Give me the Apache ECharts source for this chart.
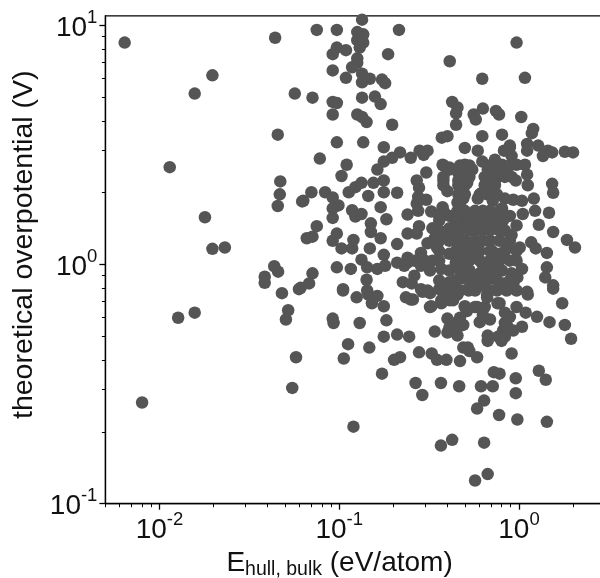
<!DOCTYPE html>
<html><head><meta charset="utf-8">
<style>html,body{margin:0;padding:0;background:#fff}#c{width:600px;height:578px}</style>
<script src="https://cdn.jsdelivr.net/npm/echarts@6/dist/echarts.min.js"></script>
</head><body><div id="c"></div>
<script>
const xMajorTicks=[0.01,0.1,1];
const yMajorTicks=[0.1,1,10];
const xMinorTicks=[0.005,0.006,0.007,0.008,0.009,0.02,0.03,0.04,0.05,0.06,0.07,0.08,0.09,0.2,0.3,0.4,0.5,0.6,0.7,0.8,0.9,2,3];
const yMinorTicks=[0.2,0.3,0.4,0.5,0.6,0.7,0.8,0.9,2,3,4,5,6,7,8,9];
const sparseLeft=[[0.0064,8.5],[0.044,8.9],[0.0197,6.2],[0.0157,5.2],[0.0566,5.2],[0.0455,3.5],[0.0114,2.56],[0.047,2.23],[0.0467,1.97],[0.0455,1.76],[0.0622,1.84],[0.0179,1.58],[0.0197,1.165],[0.0231,1.18],[0.0435,0.985],[0.0457,0.935],[0.0385,0.89],[0.0385,0.84],[0.048,0.76],[0.0597,0.79],[0.052,0.645],[0.0505,0.59],[0.0127,0.6],[0.0157,0.63],[0.0575,0.41],[0.0548,0.305],[0.008,0.265]];
const lowerBand=[[0.105,0.78],[0.125,0.73],[0.145,0.75],[0.163,0.74],[0.152,0.69],[0.177,0.67],[0.235,0.73],[0.257,0.715],[0.291,0.77],[0.32,0.76],[0.32,0.665],[0.37,0.69],[0.412,0.71],[0.4,0.77],[0.44,0.78],[0.525,0.78],[0.5,0.665],[0.514,0.64],[0.57,0.665],[0.645,0.665],[0.665,0.75],[0.78,0.69],[0.97,0.665],[1.12,0.75],[1.55,0.794],[1.74,0.69],[1.09,0.63],[1.26,0.605],[1.48,0.575],[1.8,0.56],[1.95,0.49],[0.092,0.595],[0.093,0.57],[0.13,0.57],[0.183,0.585],[0.4,0.595],[0.445,0.57],[0.49,0.56],[0.455,0.545],[0.4,0.52],[0.455,0.505],[0.34,0.525],[0.245,0.5],[0.21,0.51],[0.177,0.5],[0.112,0.465],[0.147,0.45],[0.106,0.405],[0.218,0.41],[0.202,0.4],[0.278,0.43],[0.327,0.425],[0.35,0.4],[0.395,0.4],[0.47,0.395],[0.585,0.41],[0.53,0.435],[0.49,0.45],[0.52,0.45],[0.605,0.575],[0.69,0.59],[0.63,0.615],[0.67,0.505],[0.67,0.48],[0.8,0.48],[0.815,0.53],[0.835,0.57],[0.89,0.605],[0.93,0.53],[1.04,0.55],[0.91,0.425],[0.173,0.35],[0.266,0.32],[0.29,0.285],[0.368,0.32],[0.465,0.31],[0.615,0.31],[0.715,0.31],[0.725,0.355],[0.78,0.35],[0.96,0.335],[0.96,0.29],[1.29,0.36],[1.41,0.33],[0.64,0.27],[0.585,0.25],[0.775,0.235],[0.98,0.225],[1.43,0.22],[0.12,0.21],[0.425,0.185],[0.368,0.175],[0.64,0.18],[0.67,0.133],[0.57,0.125]];
const upperBand=[[0.108,11.6],[0.134,10.6],[0.17,11.8],[0.075,9.6],[0.097,9.6],[0.215,9.6],[0.126,9.4],[0.136,9.2],[0.126,8.7],[0.136,8.5],[0.13,8.1],[0.097,8.1],[0.109,7.9],[0.092,7.6],[0.187,7.6],[0.126,7.3],[0.126,7.0],[0.118,6.7],[0.092,6.5],[0.134,6.3],[0.109,6.05],[0.148,6.0],[0.134,5.8],[0.173,5.95],[0.18,5.75],[0.412,7.1],[0.97,8.5],[0.625,6.0],[1.08,6.05],[0.071,5.0],[0.092,4.8],[0.097,4.75],[0.092,4.25],[0.134,5.0],[0.158,5.05],[0.17,4.7],[0.126,4.25],[0.134,4.15],[0.142,3.95],[0.197,3.85],[0.425,4.8],[0.455,4.55],[0.447,4.3],[0.447,3.85],[0.63,4.5],[0.56,4.25],[0.575,4.05],[0.745,4.4],[0.775,4.25],[1.03,4.15],[1.2,3.7],[1.18,3.55],[0.372,3.4],[0.4,3.45],[0.625,3.45],[0.805,3.5],[0.097,3.25],[0.136,3.25],[0.078,2.78],[0.177,3.1],[0.218,2.95],[0.25,2.8],[0.197,2.8],[0.177,2.7],[0.28,3.0],[0.31,3.0],[0.295,2.88],[0.5,3.08],[0.59,3.0],[0.625,2.7],[0.89,3.1],[0.825,3.0],[1.11,3.2],[1.11,3.0],[1.28,3.15],[1.45,3.0],[1.36,2.85],[1.53,2.95],[1.8,2.97],[2.0,2.95],[1.08,2.62],[1.53,2.18],[1.55,2.0],[1.47,1.65],[1.55,1.37],[1.29,1.47],[1.85,1.27],[2.05,1.18],[1.43,1.12],[1.43,0.975],[1.4,0.885],[1.55,0.82],[1.17,1.24],[1.24,1.17],[1.23,1.68],[1.21,1.89],[1.04,1.85],[0.93,1.87],[0.835,1.89],[1.12,2.15],[1.11,2.38],[0.96,2.25],[1.05,1.63],[0.97,1.46],[1.01,1.18],[0.91,1.33],[1.04,0.96],[0.98,0.885],[0.93,0.835],[1.11,0.77]];
const midLeft=[[0.0631,1.85],[0.07,2.01],[0.0835,2.01],[0.092,1.91],[0.099,1.77],[0.092,1.72],[0.092,1.57],[0.113,2.01],[0.123,2.11],[0.133,2.2],[0.145,1.94],[0.103,2.35],[0.11,2.62],[0.163,2.5],[0.155,2.2],[0.177,2.25],[0.177,2.01],[0.21,2.0],[0.27,2.25],[0.278,2.1],[0.305,2.43],[0.275,1.92],[0.305,1.87],[0.27,1.8],[0.275,1.68],[0.17,1.74],[0.183,1.55],[0.118,1.69],[0.123,1.59],[0.133,1.63],[0.24,1.62],[0.15,1.49],[0.15,1.37],[0.17,1.29],[0.148,1.17],[0.21,1.22],[0.24,1.35],[0.278,1.45],[0.075,1.45],[0.071,1.31],[0.066,1.29],[0.092,1.26],[0.097,1.35],[0.103,1.17],[0.118,1.17],[0.12,1.27],[0.177,1.1],[0.133,1.05],[0.143,0.975],[0.097,0.975],[0.116,0.96],[0.163,0.96],[0.18,0.99],[0.21,1.02],[0.24,1.02],[0.071,0.92],[0.068,0.835],[0.142,0.865],[0.105,0.79],[0.061,0.8],[0.226,0.845],[0.262,0.9],[0.253,0.835],[0.143,0.78]];
const denseCore=[[0.376,2.62],[0.41,2.55],[0.5,2.62],[0.55,2.5],[0.735,2.75],[0.805,2.62],[0.855,3.0],[0.91,2.85],[0.89,3.15],[0.97,2.62],[0.855,2.4],[0.78,2.5],[0.67,2.5],[0.735,2.25],[0.67,2.3],[0.69,2.15],[0.38,2.25],[0.41,2.5],[0.4,2.03],[0.46,2.42],[0.5,2.4],[0.46,2.25],[0.515,2.2],[0.48,2.07],[0.49,1.89],[0.455,1.82],[0.625,2.0],[0.59,1.89],[0.715,1.85],[0.376,1.74],[0.325,1.67],[0.455,1.68],[0.41,1.6],[0.36,1.6],[0.55,1.63],[0.63,1.68],[0.715,1.65],[0.805,1.72],[0.815,1.58],[0.605,1.56],[0.48,1.53],[0.41,1.42],[0.33,1.42],[0.35,1.33],[0.43,1.33],[0.55,1.46],[0.625,1.43],[0.71,1.43],[0.78,1.39],[0.27,1.35],[0.34,1.29],[0.35,1.18],[0.38,1.33],[0.31,1.23],[0.285,1.12],[0.262,1.04],[0.24,1.07],[0.23,0.99],[0.285,0.99],[0.37,0.96],[0.33,1.04],[0.41,1.11],[0.47,1.23],[0.445,1.02],[0.53,1.23],[0.52,1.04],[0.48,0.945],[0.555,1.09],[0.63,1.26],[0.71,1.14],[0.625,1.01],[0.605,0.92],[0.69,0.975],[0.805,0.945],[0.78,1.11],[0.87,1.18],[0.97,1.04],[0.91,0.92],[0.93,0.845],[0.815,0.835],[0.715,0.875],[0.97,0.78],[0.855,0.78],[0.76,0.69],[0.665,0.73],[0.4,0.765],[0.325,0.67],[0.37,0.71],[0.43,0.71],[0.25,0.715],[0.285,0.79],[0.31,0.78],[0.48,0.875],[0.52,0.79],[0.41,0.845],[0.36,0.79],[0.455,0.75],[0.5,0.67],[0.585,0.665],[0.555,0.86],[0.625,0.82],[0.665,0.79],[0.57,1.39],[0.69,1.26],[0.47,1.14],[0.53,0.945],[0.605,1.14],[0.755,1.02],[0.78,1.53],[0.89,1.6],[0.5,1.46],[0.445,1.26],[0.47,1.77]];
const coreFill=[[0.38,1.68],[0.5,1.68],[0.57,1.68],[0.69,1.68],[0.78,1.68],[0.36,1.53],[0.445,1.53],[0.53,1.53],[0.69,1.53],[0.815,1.53],[0.36,1.39],[0.47,1.39],[0.53,1.39],[0.625,1.39],[0.69,1.39],[0.835,1.39],[0.36,1.26],[0.41,1.26],[0.5,1.26],[0.57,1.26],[0.78,1.26],[0.89,1.26],[0.36,1.14],[0.445,1.14],[0.5,1.14],[0.57,1.14],[0.69,1.14],[0.835,1.14],[0.97,1.14],[0.3,1.04],[0.36,1.04],[0.47,1.04],[0.53,1.04],[0.605,1.04],[0.69,1.04],[0.78,1.04],[0.89,1.04],[0.32,0.945],[0.41,0.945],[0.47,0.945],[0.53,0.945],[0.665,0.945],[0.755,0.945],[0.36,0.86],[0.445,0.86],[0.53,0.86],[0.645,0.86],[0.755,0.86],[0.89,0.86],[0.38,0.78],[0.47,0.78],[0.57,0.78],[0.69,0.78],[0.755,0.78],[0.38,2.6],[0.47,2.6],[0.53,2.6],[0.69,2.6],[0.78,2.6],[0.89,2.6],[0.38,2.33],[0.48,2.33],[0.53,2.33],[0.645,2.33],[0.735,2.33],[0.835,2.33],[0.91,2.33],[0.38,2.15],[0.46,2.15],[0.5,2.15],[0.645,2.15],[0.735,2.15],[0.46,1.97],[0.5,1.97],[0.605,1.97],[0.665,1.97],[0.755,1.97],[0.855,0.56],[0.765,0.5],[0.835,0.63],[0.47,0.6],[0.41,0.545],[0.835,0.5]];
const points=[].concat(sparseLeft,lowerBand,upperBand,midLeft,denseCore,coreFill);
const ink='#000';
const txt='#111';
const FONT='"Liberation Sans",Arial,sans-serif';
const rich={b:{fontSize:28,fontFamily:FONT,color:txt,lineHeight:34,verticalAlign:'bottom'},s:{fontSize:18.5,fontFamily:FONT,color:txt,lineHeight:34,verticalAlign:'top'}};
const fmt=v=>'{b|10}{s|'+Math.round(Math.log10(v))+'}';
function axisPair(minV,maxV,major,minor,pos,name,nameGap,nameStyle,margin){
  const base={type:'log',logBase:10,min:minV,max:maxV,position:pos,splitLine:{show:false}};
  return [
   Object.assign({},base,{name:name,nameLocation:'middle',nameGap:nameGap,nameTextStyle:nameStyle,
     axisLine:{show:true,onZero:false,lineStyle:{color:ink,width:1.3}},
     axisTick:{show:true,customValues:major,length:6,inside:false,lineStyle:{color:ink,width:1.3}},
     minorTick:{show:false},
     axisLabel:{show:true,customValues:major,formatter:fmt,rich:rich,margin:margin,hideOverlap:false,showMinLabel:true,showMaxLabel:true}}),
   Object.assign({},base,{axisLine:{show:false},
     axisTick:{show:true,customValues:minor,length:3.5,lineStyle:{color:ink,width:1}},
     axisLabel:{show:false}})
  ];
}
const nameStyleY={padding:[0,0,0,30],rich:{t:{fontSize:28.5,fontFamily:FONT,color:txt}}};
const nameStyleX={padding:[0,31,0,0],rich:{t:{fontSize:28,fontFamily:FONT,color:txt,lineHeight:30,verticalAlign:'top'},u:{fontSize:19.5,fontFamily:FONT,color:txt,lineHeight:30,verticalAlign:'bottom'}}};
const option={
 animation:false,backgroundColor:'#fff',
 grid:{left:105.4,top:15.8,right:-4.7,bottom:74.3,show:true,borderColor:ink,borderWidth:1.3,backgroundColor:'transparent',containLabel:false,outerBoundsMode:'none'},
 xAxis:axisPair(0.005,3,xMajorTicks,xMinorTicks,'bottom','{t|E}{u|hull, bulk}{t| (eV/atom)}',41,nameStyleX,7),
 yAxis:axisPair(0.1,11,yMajorTicks,yMinorTicks,'left','{t|theoretical overpotential (V)}',65,nameStyleY,8),
 series:[{type:'scatter',data:points,symbol:'circle',symbolSize:12.5,clip:true,itemStyle:{color:'#555555',opacity:1},emphasis:{disabled:true}}]
};
echarts.init(document.getElementById('c'),null,{renderer:'canvas'}).setOption(option);
</script></body></html>
